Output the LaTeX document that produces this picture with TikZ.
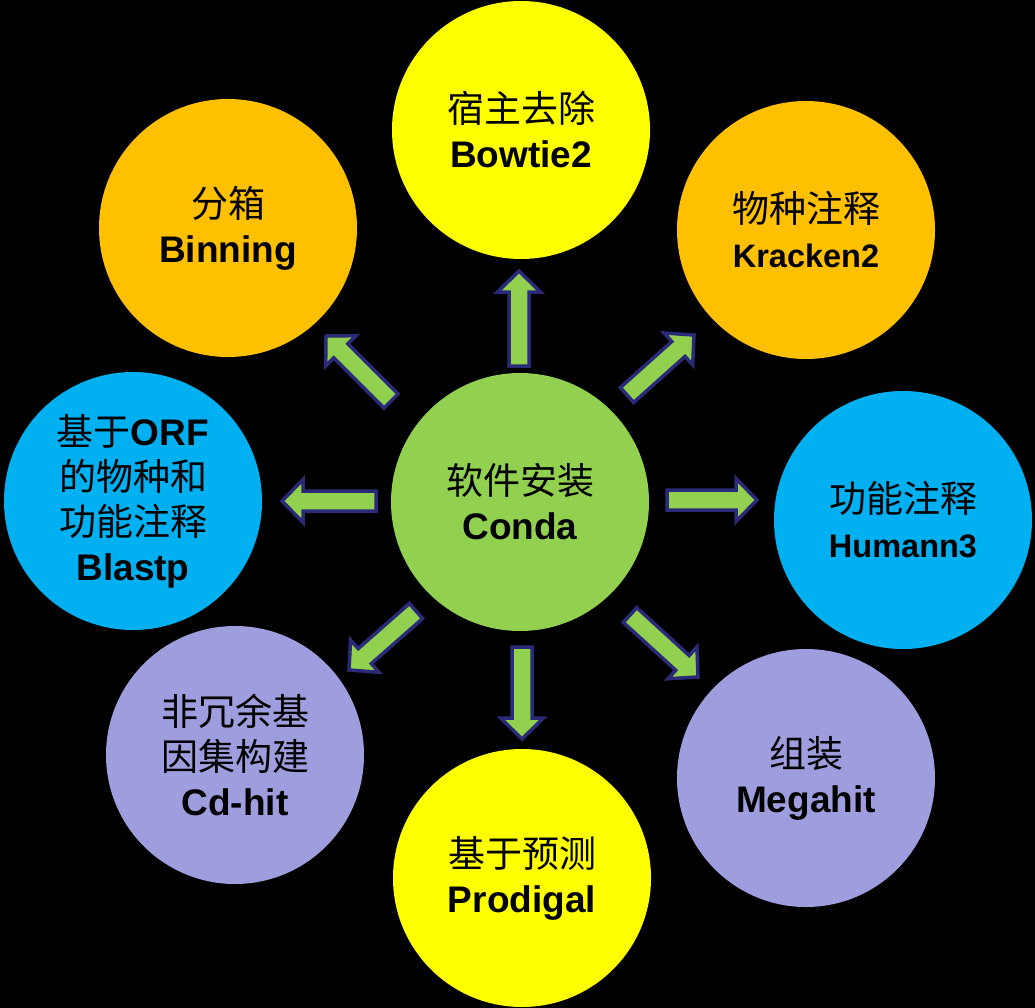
\documentclass[tikz,border=0pt]{standalone}
\usepackage{fontspec}
\setmainfont{Liberation Sans}
\newfontfamily\cjk{Noto Sans CJK SC}
\usetikzlibrary{calc}
\definecolor{cgreen}{RGB}{146,208,80}
\definecolor{cnavy}{RGB}{43,42,120}
\definecolor{cyellow}{RGB}{255,255,0}
\definecolor{corange}{RGB}{255,192,0}
\definecolor{cblue}{RGB}{0,176,240}
\definecolor{cpurple}{RGB}{158,158,222}
\tikzset{
  bub/.style={circle, minimum size=258pt, inner sep=0pt, align=center,
    font=\fontsize{37}{45}\selectfont, text=black},
  arrbody/.style={fill=cgreen, draw=cnavy, line width=3.5pt, line join=miter}
}
\newcommand\blockarr[2]{%
  \coordinate (#1-b) at ($(#2)!21pt!(#1)$);
  \draw[arrbody] ($(#1)!10pt!90:(#2)$) -- ($(#1-b)!10pt!90:(#2)$)
    -- ($(#1-b)!21.5pt!90:(#2)$) -- (#2)
    -- ($(#1-b)!21.5pt!-90:(#2)$) -- ($(#1-b)!10pt!-90:(#2)$)
    -- ($(#1)!10pt!-90:(#2)$) -- cycle;}
\newcommand\smallb[1]{{\fontsize{32.5}{45}\selectfont\textbf{#1}}}
\begin{document}
\begin{tikzpicture}[x=1pt,y=-1pt]
\fill[black] (0,0) rectangle (1035,1008);
\useasboundingbox (0,0) rectangle (1035,1008);

\node[bub, fill=cgreen]  (center)   at (520,502) {{\cjk 软件安装}\\\textbf{Conda}};
\node[bub, fill=cyellow] (host)     at (521,130) {{\cjk 宿主去除}\\\textbf{Bowtie2}};
\node[bub, fill=corange] (binning)  at (228,228) {{\cjk 分箱}\\\textbf{Binning}};
\node[bub, fill=corange] (kracken)  at (806,230) {{\cjk 物种注释}\\\smallb{Kracken2}};
\node[bub, fill=cblue]   (blastp)   at (133,501) {{\cjk 基于}\textbf{ORF}\\{\cjk 的物种和}\\{\cjk 功能注释}\\\textbf{Blastp}};
\node[bub, fill=cblue]   (humann)   at (903,520) {{\cjk 功能注释}\\\smallb{Humann3}};
\node[bub, fill=cpurple] (cdhit)    at (235,755) {{\cjk 非冗余基}\\{\cjk 因集构建}\\\textbf{Cd-hit}};
\node[bub, fill=cyellow] (prodigal) at (522,878) {{\cjk 基于预测}\\\textbf{Prodigal}};
\node[bub, fill=cpurple] (megahit)  at (806,778) {{\cjk 组装}\\\textbf{Megahit}};

% arrow tails (t) and tips (h)
\coordinate (t1) at (519,366); \coordinate (h1) at (519,271);
\coordinate (t2) at (627,395); \coordinate (h2) at (694,335);
\coordinate (t3) at (667,500); \coordinate (h3) at (757,500);
\coordinate (t4) at (630,615); \coordinate (h4) at (698,677);
\coordinate (t5) at (522,647); \coordinate (h5) at (522,739);
\coordinate (t6) at (416,611); \coordinate (h6) at (349,670);
\coordinate (t7) at (376,501); \coordinate (h7) at (282,501);
\coordinate (t8) at (391,401); \coordinate (h8) at (326,336);

\blockarr{t1}{h1}
\blockarr{t2}{h2}
\blockarr{t3}{h3}
\blockarr{t4}{h4}
\blockarr{t5}{h5}
\blockarr{t6}{h6}
\blockarr{t7}{h7}
\blockarr{t8}{h8}
\end{tikzpicture}
\end{document}
